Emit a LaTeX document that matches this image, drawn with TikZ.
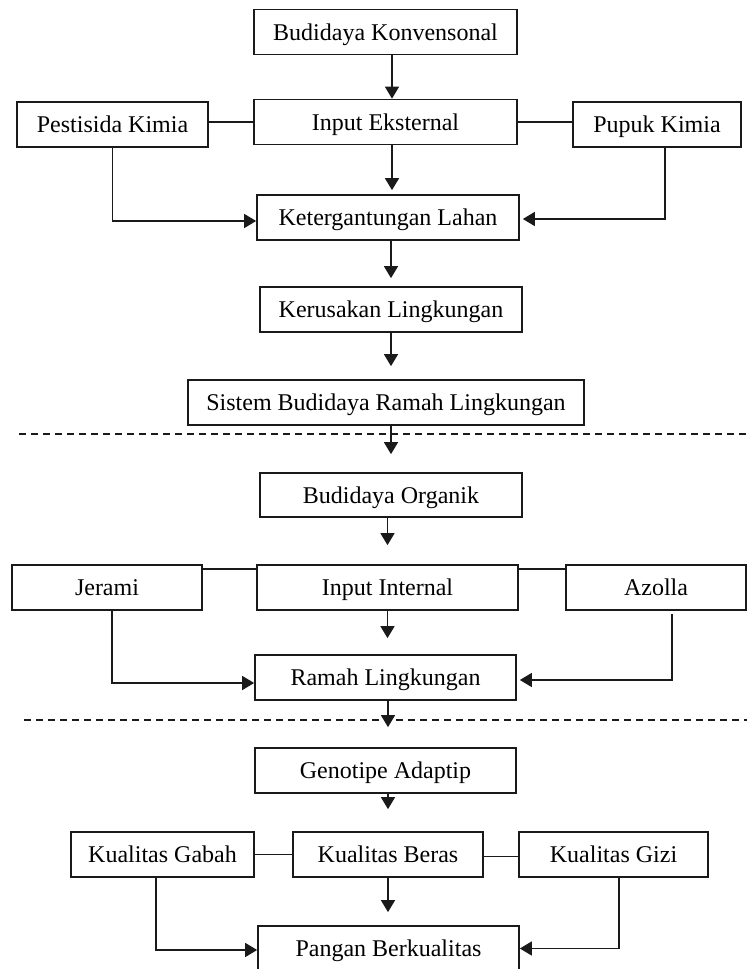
\documentclass[tikz,border=0pt]{standalone}
\usepackage{fontspec}
\setmainfont{Liberation Serif}
\usetikzlibrary{arrows.meta,calc}
\definecolor{linec}{HTML}{1A1A1A}
\begin{document}
\begin{tikzpicture}[x=1pt,y=-1pt,
  box/.style={draw=linec, line width=1.7pt, minimum height=45pt, inner sep=0pt,
    font=\fontsize{24}{28}\selectfont, text=black, text height=16pt, text depth=0pt},
  conn/.style={draw=linec, line width=1.4pt},
  arr/.style={conn, -{Triangle[length=12pt,width=14pt]}},
  sep/.style={draw=linec, line width=1.3pt, dash pattern=on 7pt off 5pt}
]
\useasboundingbox (0,0) rectangle (747,969);
% section 1
\node[box, minimum width=263pt] (bk) at (385.5,32) {Budidaya Konvensonal};
\node[box, minimum width=263pt] (ie) at (385.5,122) {Input Eksternal};
\node[box, minimum width=191pt] (pk) at (112.5,124.5) {Pestisida Kimia};
\node[box, minimum width=168pt] (pu) at (657,124.5) {Pupuk Kimia};
\node[box, minimum width=262pt] (kl) at (388,217.5) {Ketergantungan Lahan};
\node[box, minimum width=262pt] (kr) at (391,309.5) {Kerusakan Lingkungan};
\node[box, minimum width=396pt] (sb) at (386,402.5) {Sistem Budidaya Ramah Lingkungan};
% section 2
\node[box, minimum width=262pt, minimum height=44pt] (bo) at (391,495) {Budidaya Organik};
\node[box, minimum width=190pt] (je) at (107,587.5) {Jerami};
\node[box, minimum width=261pt] (ii) at (387.5,587.5) {Input Internal};
\node[box, minimum width=180pt] (az) at (656,587.5) {Azolla};
\node[box, minimum width=261pt] (rl) at (385.5,677.5) {Ramah Lingkungan};
% section 3
\node[box, minimum width=261pt] (ga) at (385.5,770.5) {Genotipe Adaptip};
\node[box, minimum width=183pt] (kg) at (162.5,854.5) {Kualitas Gabah};
\node[box, minimum width=190pt] (kb) at (388,854.5) {Kualitas Beras};
\node[box, minimum width=189pt] (kz) at (613.5,854.5) {Kualitas Gizi};
\node[box, minimum width=261pt] (pb) at (388.5,948.5) {Pangan Berkualitas};
% separators
\coordinate (d1a) at (19,434);
\coordinate (d1b) at (747,434);
\coordinate (d2a) at (24,720);
\coordinate (d2b) at (747,720);
\draw[sep] (d1a) -- (d1b);
\draw[sep] (d2a) -- (d2b);
% section 1 connectors
\draw[arr] ([xshift=6.5pt]bk.south) -- ([xshift=6.5pt]ie.north);
\draw[conn] (pk.east |- ie.west) -- (ie.west);
\draw[conn] (ie.east) -- (pu.west |- ie.east);
\draw[arr, shorten >=4pt] ([xshift=6.5pt]ie.south) -- ([xshift=4pt]kl.north);
\draw[arr] (pk.south) |- ([yshift=-3.5pt]kl.west);
\draw[arr, shorten >=3pt] ([xshift=8pt]pu.south) |- ([yshift=-1.5pt]kl.east);
\draw[arr, shorten >=8pt] (kl.south -| kr.north) -- (kr.north);
\draw[arr, shorten >=13pt] (kr.south) -- (sb.north -| kr.south);
\draw[arr, shorten >=18pt] (sb.south -| bo.north) -- (bo.north);
% section 2 connectors
\draw[arr, shorten >=19pt] (bo.south -| ii.north) -- (ii.north);
\draw[conn] ([yshift=-5pt]je.north east) -- ([yshift=-5pt]ii.north west);
\draw[conn] ([yshift=-5pt]ii.north east) -- ([yshift=-5pt]az.north west);
\draw[arr, shorten >=16pt] (ii.south) -- (rl.north -| ii.south);
\draw[arr] ([xshift=5pt]je.south) |- ([yshift=-5.5pt]rl.west);
\draw[arr, shorten >=3pt] ([xshift=16pt,yshift=-3pt]az.south) |- ([yshift=-2.5pt]rl.east);
\draw[arr, shorten >=20pt] ([xshift=2.5pt]rl.south) -- ([xshift=2.5pt]ga.north);
% section 3 connectors
\draw[arr, shorten >=22pt] (ga.south -| kb.north) -- (kb.north);
\draw[conn] (kg.east) -- (kb.west);
\draw[conn] ([yshift=-2pt]kb.east) -- ([yshift=-2pt]kz.west);
\draw[arr, shorten >=13pt] (kb.south) -- (pb.north -| kb.south);
\draw[arr] ([xshift=-6.5pt]kg.south) |- ([yshift=-1.5pt]pb.west);
\draw[arr] ([xshift=5.5pt]kz.south) |- (pb.east);
\end{tikzpicture}
\end{document}
